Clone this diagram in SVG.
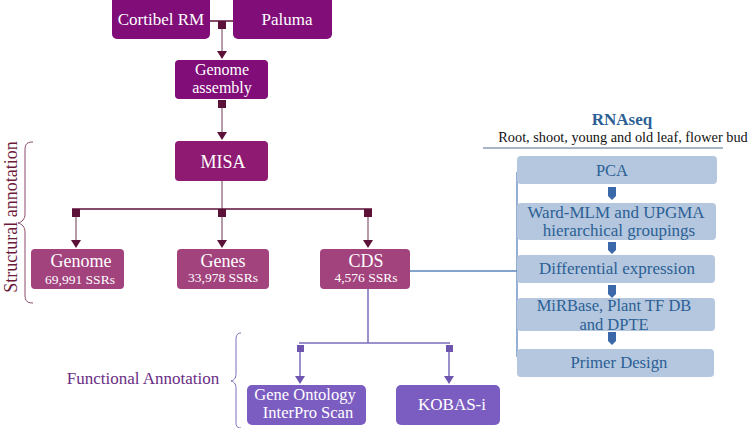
<svg xmlns="http://www.w3.org/2000/svg" width="748" height="428" viewBox="0 0 748 428" font-family="'Liberation Serif', 'Times New Roman', serif">
<defs>
<style>
text{font-family:"Liberation Serif","Times New Roman",serif;}
.w{fill:#ffffff;text-anchor:middle;}
.b{fill:#2c5f95;text-anchor:middle;}
.top{fill:#800d78;}
.misa{fill:#8e1a72;}
.sub{fill:#a3437e;}
.pur{fill:#7b5cc1;}
.rb{fill:#b4c7de;}
.stem{stroke:#a07a8c;stroke-width:1.5;fill:none;}
.hl{stroke:#5c1238;stroke-width:1.5;fill:none;}
.sq{fill:#5c1238;}
.pl{stroke:#7b6cbd;stroke-width:1.5;fill:none;}
.psq{fill:#6e56b0;}
.bl{stroke:#5b85bd;stroke-width:1.3;fill:none;}
</style>
</defs>

<g id="connectors">
<line class="hl" x1="210" y1="21" x2="233" y2="21"/>
<rect class="sq" x="218" y="21" width="8" height="8"/>
<path d="M222,29 V52" class="stem"/>
<path d="M217,51 L227,51 L222,59 Z" class="sq"/>
<rect class="sq" x="218" y="100" width="8" height="8"/>
<path d="M222,108 V132" class="stem"/>
<path d="M217,132 L227,132 L222,140 Z" class="sq"/>
<path d="M222,181 V209" class="stem"/>
<line class="hl" x1="72" y1="209" x2="372" y2="209"/>
<rect class="sq" x="72" y="209" width="8" height="8"/>
<rect class="sq" x="218" y="209" width="8" height="8"/>
<rect class="sq" x="364" y="209" width="8" height="8"/>
<path d="M76,217 V240 M222,217 V240 M368,217 V240" class="stem"/>
<path d="M71,240 L81,240 L76,248 Z M217,240 L227,240 L222,248 Z M363,240 L373,240 L368,248 Z" class="sq"/>
<line class="bl" x1="410" y1="271" x2="517" y2="271"/>
<line class="bl" x1="517" y1="172" x2="517" y2="357"/>
<line class="pl" x1="368" y1="289" x2="368" y2="343"/>
<line class="pl" x1="299" y1="343" x2="450" y2="343"/>
<rect class="psq" x="297" y="345" width="7" height="7"/>
<rect class="psq" x="446" y="345" width="7" height="7"/>
<path d="M300,352 V377 M449,352 V377" class="pl"/>
<path d="M295,376 L305,376 L300,384 Z M444,376 L454,376 L449,384 Z" class="psq"/>
<g fill="#3a68a8">
<path d="M608,187 H616 V196 L612,200 L608,196 Z"/>
<path d="M608,242 H616 V250 L612,254 L608,250 Z"/>
<path d="M608,285 H616 V294 L612,298 L608,294 Z"/>
<path d="M608,332 H616 V341 L612,345 L608,341 Z"/>
</g>
</g>

<g id="cortibel">
<rect class="top" x="112" y="-6" width="98" height="45" rx="5"/>
<text class="w" x="161" y="25" font-size="17">Cortibel RM</text>
</g>
<g id="paluma">
<rect class="top" x="233" y="-6" width="99" height="45" rx="5"/>
<text class="w" x="287" y="25" font-size="17">Paluma</text>
</g>
<g id="genome-assembly">
<rect class="top" x="175" y="60" width="93" height="39" rx="4"/>
<text class="w" x="222" y="75" font-size="16">Genome</text>
<text class="w" x="222" y="93" font-size="16">assembly</text>
</g>
<g id="misa">
<rect class="misa" x="175" y="141" width="93" height="40" rx="4"/>
<text class="w" x="223" y="168" font-size="18">MISA</text>
</g>
<g id="genome">
<rect class="sub" x="31" y="249" width="93" height="40" rx="4"/>
<text class="w" x="81" y="267" font-size="18">Genome</text>
<text class="w" x="80" y="284" font-size="13.5">69,991 SSRs</text>
</g>
<g id="genes">
<rect class="sub" x="177" y="249" width="92" height="40" rx="4"/>
<text class="w" x="223" y="267" font-size="18">Genes</text>
<text class="w" x="223" y="282" font-size="13.5">33,978 SSRs</text>
</g>
<g id="cds">
<rect class="sub" x="320" y="249" width="90" height="40" rx="4"/>
<text class="w" x="366" y="267" font-size="18">CDS</text>
<text class="w" x="366" y="282" font-size="13.5">4,576 SSRs</text>
</g>

<g id="structural-label">
<text x="17" y="217" font-size="18" fill="#6b1a3a" text-anchor="middle" transform="rotate(-90 17 217)">Structural annotation</text>
<path d="M33,142 C25,142 25,146 25,152 L25,214 C25,219 22,222 18,223 C22,224 25,227 25,232 L25,293 C25,299 25,303 33,303" fill="none" stroke="#8a4a6a" stroke-width="1"/>
</g>

<g id="functional-label">
<text x="143" y="384" font-size="17" fill="#6a2d84" text-anchor="middle">Functional Annotation</text>
<path d="M241,333 C236,333 236,337 236,342 L236,373 C236,377 235,380 231,381 C235,382 236,385 236,389 L236,420 C236,425 236,428 241,428" fill="none" stroke="#7b6cbd" stroke-width="1"/>
</g>

<g id="gene-ontology">
<rect class="pur" x="247" y="385" width="119" height="40" rx="5"/>
<text class="w" x="305" y="400" font-size="16.5">Gene Ontology</text>
<text class="w" x="308" y="418" font-size="16.5">InterPro Scan</text>
</g>
<g id="kobas">
<rect class="pur" x="396" y="385" width="104" height="40" rx="5"/>
<text class="w" x="452" y="410" font-size="17">KOBAS-i</text>
</g>

<g id="rnaseq">
<text x="622" y="125" font-size="17" font-weight="bold" fill="#2c5f95" text-anchor="middle">RNAseq</text>
<text x="623" y="142" font-size="14.3" fill="#111" text-anchor="middle">Root, shoot, young and old leaf, flower bud</text>
<line x1="483" y1="148" x2="723" y2="148" stroke="#4f6f90" stroke-width="1.2"/>
</g>
<g id="pca">
<rect class="rb" x="517" y="156" width="200" height="28" rx="4"/>
<text class="b" x="612" y="176" font-size="16.5">PCA</text>
</g>
<g id="ward">
<rect class="rb" x="517" y="203" width="199" height="37" rx="4"/>
<text class="b" x="616" y="218" font-size="17">Ward-MLM and UPGMA</text>
<text class="b" x="619" y="236" font-size="17">hierarchical groupings</text>
</g>
<g id="diff">
<rect class="rb" x="517" y="255" width="198" height="28" rx="4"/>
<text class="b" x="617" y="274" font-size="17">Differential expression</text>
</g>
<g id="mirbase">
<rect class="rb" x="517" y="298" width="198" height="33" rx="4"/>
<text class="b" x="614" y="311" font-size="16.5">MiRBase, Plant TF DB</text>
<text class="b" x="614" y="330" font-size="16.5">and DPTE</text>
</g>
<g id="primer">
<rect class="rb" x="517" y="349" width="197" height="28" rx="4"/>
<text class="b" x="619" y="368" font-size="16.7">Primer Design</text>
</g>
</svg>
